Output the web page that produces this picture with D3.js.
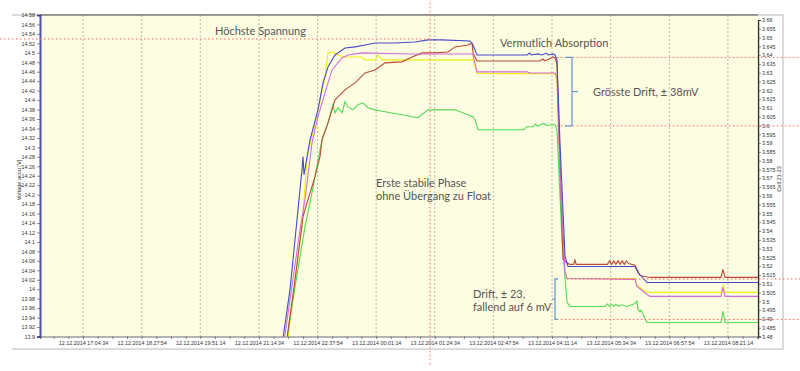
<!DOCTYPE html>
<html><head><meta charset="utf-8">
<script src="https://cdn.jsdelivr.net/npm/d3@7/dist/d3.min.js"></script>
<style>body{margin:0;background:#fff}svg{display:block}</style>
</head><body><svg id="c" width="800" height="371"></svg>
<script>
// ---- data (time in hours of 12.12.2014, values in V of right axis "Cell 21-23") ----
const xTickLabels = ["12.12.2014 17:04:34","12.12.2014 18:27:54","12.12.2014 19:51:14","12.12.2014 21:14:34",
  "12.12.2014 22:37:54","13.12.2014 00:01:14","13.12.2014 01:24:34","13.12.2014 02:47:54",
  "13.12.2014 04:11:14","13.12.2014 05:34:34","13.12.2014 06:57:54","13.12.2014 08:21:14"];
const xDomain = [16.057, 33.067];
const leftDomain = [13.9, 14.58];
const rightDomain = [3.48, 3.66];
const leftTicks = d3.range(0, 35).map(i => +(13.9 + i * 0.02).toFixed(2));
const rightTicks = d3.range(0, 37).map(i => +(3.48 + i * 0.005).toFixed(3));

const blue = [[21.814,3.479],[21.980,3.5068],[22.146,3.5465],[22.264,3.5749],[22.288,3.5823],[22.311,3.5720],
 [22.454,3.5919],[22.643,3.6089],[22.762,3.6242],[22.880,3.6333],[23.046,3.6401],[23.283,3.6441],[23.520,3.6447],
 [23.757,3.6458],[23.994,3.6469],[24.467,3.6469],[24.941,3.6475],[25.249,3.6487],[25.581,3.6487],[26.244,3.6481],
 [26.315,3.6458],[26.410,3.6401],[27.500,3.6401],[27.60,3.6401],[27.65,3.6412],[27.70,3.6401],[27.85,3.6407],
 [27.95,3.6401],[28.05,3.6412],[28.10,3.6401],[28.210,3.6407],[28.258,3.6401],[28.305,3.6373],[28.376,3.5900],
 [28.495,3.5255],[28.566,3.5198],[30.153,3.5198],[30.224,3.5164],[30.437,3.5107],[33.067,3.5107]];
const red = [[21.909,3.479],[22.099,3.5125],[22.288,3.5482],[22.406,3.5579],[22.572,3.5709],[22.691,3.5823],
 [22.738,3.5919],[22.880,3.6015],[23.046,3.6146],[23.283,3.6203],[23.520,3.6242],[23.757,3.6299],[23.994,3.6316],
 [24.230,3.6356],[24.633,3.6362],[24.870,3.6390],[25.107,3.6413],[25.415,3.6413],[25.723,3.6418],[25.889,3.6447],
 [26.197,3.6458],[26.292,3.6469],[26.315,3.6413],[26.410,3.6367],[27.903,3.6367],[27.973,3.6378],[28.02,3.6367],
 [28.10,3.6375],[28.210,3.6390],[28.258,3.6384],[28.305,3.6350],[28.447,3.5238],[28.542,3.5221],[28.60,3.5210],
 [28.70,3.5210],[28.73,3.5235],[28.76,3.5210],[29.50,3.5210],[29.55,3.5230],[29.60,3.5210],[29.65,3.5230],
 [29.70,3.5210],[29.75,3.5230],[29.80,3.5210],[29.85,3.5230],[29.90,3.5210],[29.95,3.5230],[30.00,3.5215],
 [30.153,3.5205],[30.271,3.5147],[30.508,3.5136],[32.190,3.5136],[32.238,3.5181],[32.285,3.5136],[33.067,3.5136]];
const magenta = [[21.850,3.479],[22.217,3.5408],[22.335,3.5579],[22.501,3.5902],[22.643,3.6050],[22.809,3.6186],
 [22.975,3.6316],[23.212,3.6384],[23.354,3.6401],[23.685,3.6413],[24.775,3.6407],[25.581,3.6407],[26.292,3.6407],
 [26.315,3.6401],[26.410,3.6305],[27.594,3.6305],[27.665,3.6299],[28.258,3.6299],[28.305,3.6271],[28.376,3.5732],
 [28.495,3.5164],[28.542,3.5130],[30.153,3.5125],[30.200,3.5085],[30.437,3.5039],[30.508,3.5028],[32.190,3.5028],
 [32.238,3.5079],[32.285,3.5028],[33.067,3.5028]];
const yellow = [[21.933,3.479],[22.146,3.5198],[22.264,3.5425],[22.383,3.5817],[22.643,3.6089],[22.809,3.6277],
 [22.880,3.6413],[22.999,3.6418],[23.093,3.6401],[23.283,3.6390],[23.685,3.6390],[23.757,3.6373],[23.994,3.6373],
 [24.065,3.6401],[24.159,3.6373],[26.292,3.6373],[26.315,3.6379],[26.410,3.6296],[28.258,3.6294],[28.305,3.6250],
 [28.376,3.5732],[28.495,3.5170],[28.542,3.5130],[30.153,3.5130],[30.200,3.5090],[30.437,3.5051],[32.190,3.5051],
 [32.238,3.5090],[32.285,3.5051],[33.067,3.5051]];
const green = [[21.909,3.479],[22.051,3.5011],[22.217,3.5255],[22.335,3.5425],[22.454,3.5561],[22.572,3.5709],
 [22.691,3.5862],[22.762,3.5940],[22.880,3.6015],[22.999,3.6118],[23.046,3.6072],[23.117,3.6101],[23.212,3.6072],
 [23.283,3.6135],[23.354,3.6106],[23.472,3.6089],[23.591,3.6118],[23.709,3.6129],[23.828,3.6101],[23.994,3.6089],
 [24.230,3.6078],[24.633,3.6061],[24.870,3.6050],[25.012,3.6044],[25.249,3.6089],[25.889,3.6089],[26.197,3.6061],
 [26.315,3.6050],[26.362,3.6033],[26.434,3.5976],[27.500,3.5976],[27.594,3.5993],[27.737,3.5993],[27.80,3.6008],
 [27.85,3.5995],[27.903,3.6004],[28.00,3.6012],[28.05,3.6000],[28.210,3.6004],[28.258,3.6004],[28.305,3.5976],
 [28.423,3.5352],[28.542,3.4994],[28.613,3.4971],[29.443,3.4971],[29.50,3.4985],[29.55,3.4971],[29.60,3.4985],
 [29.65,3.4971],[29.70,3.4985],[29.75,3.4971],[29.85,3.4980],[29.95,3.4971],[30.05,3.4978],[30.153,3.4988],
 [30.20,3.5000],[30.224,3.4954],[30.27,3.4940],[30.30,3.4950],[30.342,3.4926],[30.437,3.4880],[32.190,3.4880],
 [32.238,3.4943],[32.285,3.4880],[33.067,3.4880]];

// annotations (data units)
const redHLines = [[3.6492,15.11,25.30],[3.6387,28.30,34.06],[3.5998,28.30,34.06],[3.5127,28.54,34.06],[3.4897,28.30,34.06]];
const redVLine = [25.297, 3.4642, 3.6714];
const notes = [["Höchste Spannung",20.203,3.6515],["Vermutlich Absorption",26.955,3.6447],
 ["Erste stabile Phase",24.017,3.5652],["ohne Übergang zu Float",24.017,3.5579],
 ["Grösste Drift, ± 38mV",29.158,3.6169],["Drift, ± 23,",26.315,3.5017],["fallend auf 6 mV",26.315,3.4943]];

// ---- layout ----
const svg = d3.select("#c");
const L = 40, R = 758, T = 15, B = 336.5;
const x = d3.scaleLinear().domain(xDomain).range([L, R]);
const yL = d3.scaleLinear().domain(leftDomain).range([B, T]);
const yR = d3.scaleLinear().domain(rightDomain).range([B, 20]);
const parseH = s => { const m = s.match(/(\d+)\.\d+\.\d+ (\d+):(\d+):(\d+)/); return (+m[1]-12)*24 + +m[2] + m[3]/60 + m[4]/3600; };
const xTicks = xTickLabels.map(parseH);

// outer frame
svg.append("path").attr("d",`M12,${T}H783V349H12`).attr("fill","none").attr("stroke","#cfcfcf").attr("stroke-width",1.5);
svg.append("rect").attr("x",L).attr("y",T).attr("width",R-L).attr("height",B-T).attr("fill","#fdfde1");

// grid
svg.append("g").selectAll("line").data(xTicks).join("line")
  .attr("x1",d=>x(d)).attr("x2",d=>x(d)).attr("y1",T).attr("y2",B)
  .attr("stroke","#a8a8a8").attr("stroke-width",0.8).attr("stroke-dasharray","2,2");

// axes
const tf = (n) => d => String(+d.toFixed(n));
const gL = svg.append("g").attr("transform",`translate(${L},0)`)
  .call(d3.axisLeft(yL).tickValues(leftTicks).tickFormat(tf(2)).tickSize(3).tickPadding(2));
const gR = svg.append("g").attr("transform",`translate(${R},0)`)
  .call(d3.axisRight(yR).tickValues(rightTicks).tickFormat(tf(3)).tickSize(3).tickPadding(1));
svg.append("g").attr("transform",`translate(${R},0)`)
  .call(d3.axisRight(yR).tickValues(d3.range(0,181).map(i=>3.48+i*0.001)).tickFormat("").tickSize(1.5))
  .select(".domain").remove();
const minorX = d3.range(-3, 50).map(i => xTicks[0] + i * (xTicks[1]-xTicks[0]) / 4).filter(v => v > xDomain[0] && v < xDomain[1]);
const gB = svg.append("g").attr("transform",`translate(0,${B})`)
  .call(d3.axisBottom(x).tickValues(minorX).tickFormat("").tickSize(2.5));
svg.append("g").attr("transform",`translate(0,${B})`)
  .call(d3.axisBottom(x).tickValues(xTicks).tickFormat((d,i)=>xTickLabels[i]).tickSize(0).tickPadding(5))
  .select(".domain").remove();
svg.selectAll(".tick text").attr("font-family","Liberation Sans, Arial").attr("font-size","5.4px").attr("fill","#333");
svg.selectAll(".tick line").attr("stroke","#444").attr("stroke-width",0.6);
gL.select(".domain").attr("stroke","#5050b0").attr("stroke-width",2);
gR.select(".domain").attr("stroke","#222").attr("stroke-width",1.2);
gB.select(".domain").attr("stroke","#444").attr("stroke-width",0.8);
svg.append("line").attr("x1",L).attr("x2",R).attr("y1",T).attr("y2",T).attr("stroke","#444").attr("stroke-width",1);

// axis titles
svg.append("text").attr("transform","translate(21,180) rotate(-90)").attr("text-anchor","middle")
  .attr("font-family","Liberation Sans, Arial").attr("font-size","5.6px").attr("fill","#333").text("Voltage accu [V]");
svg.append("text").attr("transform","translate(781,179) rotate(-90)").attr("text-anchor","middle")
  .attr("font-family","Liberation Sans, Arial").attr("font-size","5.6px").attr("fill","#333").text("Cell 21-23");

// series
const clip = svg.append("clipPath").attr("id","pc").append("rect").attr("x",L).attr("y",T).attr("width",R-L).attr("height",B-T);
const line = d3.line().x(d=>x(d[0])).y(d=>yR(d[1]));
const series = [[yellow,"#eeee10"],[green,"#55d855"],[red,"#bb4a3a"],[magenta,"#d36cd6"],[blue,"#4848c8"]];
const gS = svg.append("g").attr("clip-path","url(#pc)");
series.forEach(([d,c]) => gS.append("path").attr("d",line(d)).attr("fill","none").attr("stroke",c).attr("stroke-width",1.1));

// red dotted annotation lines
const redStyle = s => s.attr("stroke","#f06a5a").attr("stroke-width",1).attr("stroke-dasharray","1.5,2.5");
svg.append("g").selectAll("line").data(redHLines).join("line")
  .attr("x1",d=>x(d[1])).attr("x2",d=>x(d[2])).attr("y1",d=>yR(d[0])).attr("y2",d=>yR(d[0])).call(redStyle);
svg.append("line").attr("x1",x(redVLine[0])).attr("x2",x(redVLine[0]))
  .attr("y1",yR(redVLine[1])).attr("y2",yR(redVLine[2])).call(redStyle);

// brackets
const br = (xv, xArm, xNub, v0, v1) => {
  const ym = (yR(v0)+yR(v1))/2;
  return `M${x(xArm)},${yR(v0)}H${x(xv)}V${yR(v1)}H${x(xArm)}M${x(xv)},${ym}H${x(xNub)}`;
};
svg.append("path").attr("d",br(28.660,28.495,28.802,3.6387,3.5998)).attr("fill","none").attr("stroke","#6b9bd2").attr("stroke-width",1.3);
svg.append("path").attr("d",br(28.258,28.329,28.187,3.5127,3.4897)).attr("fill","none").attr("stroke","#6b9bd2").attr("stroke-width",1.3);

// notes
svg.append("g").selectAll("text").data(notes).join("text")
  .attr("x",d=>x(d[1])).attr("y",d=>yR(d[2])).text(d=>d[0])
  .attr("font-family","Lato, Open Sans, sans-serif").attr("font-size","11px").attr("fill","#555");
</script></body></html>
